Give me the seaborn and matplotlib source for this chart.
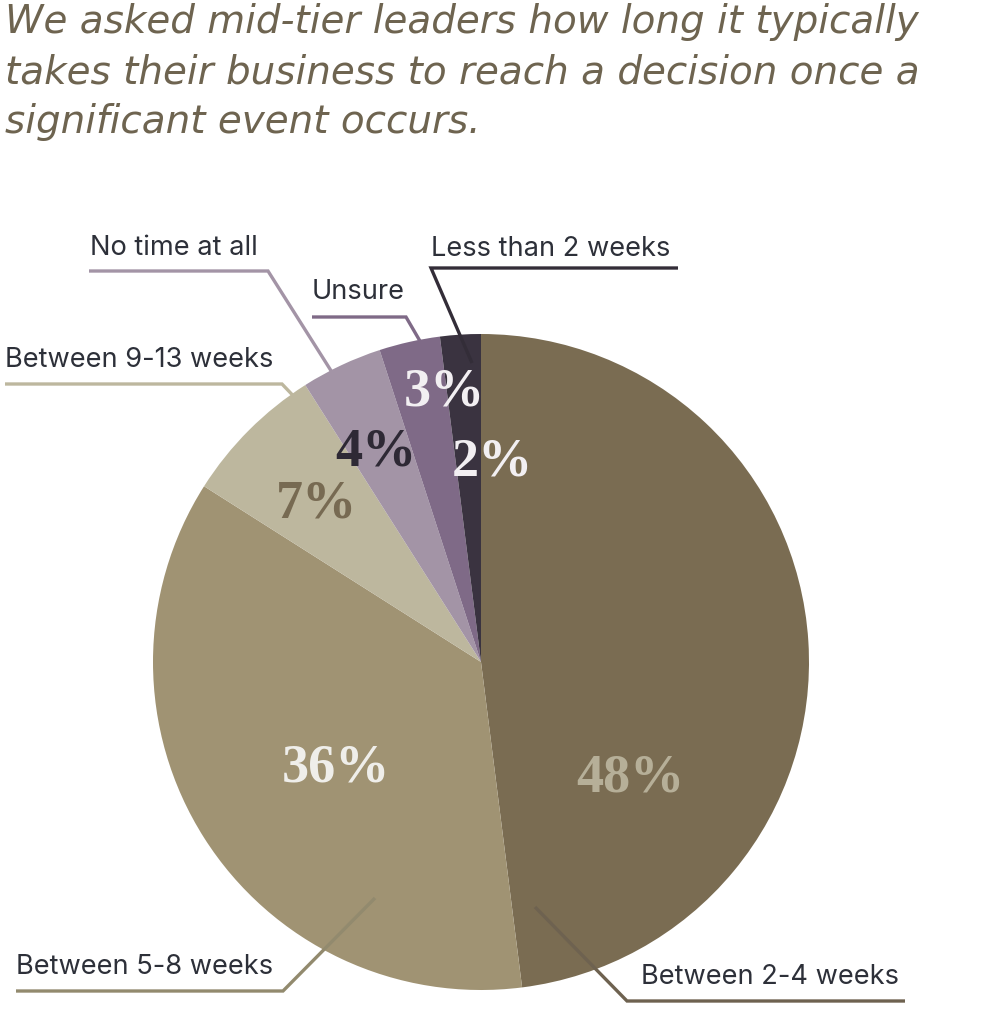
import numpy as np
import seaborn as sns
from matplotlib import pyplot as plt

# data
categories = ["Between 2-4 weeks", "Between 5-8 weeks", "Between 9-13 weeks",
              "No time at all", "Unsure", "Less than 2 weeks"]
shares = [48, 36, 7, 4, 3, 2]
pct_labels = ["48%", "36%", "7%", "4%", "3%", "2%"]
title_lines = ["We asked mid-tier leaders how long it typically",
               "takes their business to reach a decision once a",
               "significant event occurs."]

# styles
slice_colors = sns.color_palette(["#7a6c52", "#a09373", "#bdb79e",
                                  "#a394a6", "#7f6a87", "#3a3340"])
line_colors = ["#6e6250", "#928a6e", "#bdb79e", "#a394a6", "#7f6a87", "#332d38"]
pct_colors = ["#b6af98", "#efeeea", "#776a52", "#2e2935", "#f2eff2", "#f2eff2"]

W, H = 1005, 1036
CX, CY, R = 481, 662, 328

# label layout in pixel coordinates (top-left origin)
pct_pos = [(630, 778), (336, 769), (316, 505), (376, 452), (444, 393), (492, 462)]
# text x, text y (center), underline x0, x1, underline y, pointer end
callouts = [
    (641, 977, 627, 905, 1001, (535, 907), "left"),
    (16, 967, 16, 283, 991, (375, 898), "right"),
    (5, 360, 5, 282, 384, (325, 429), "right"),
    (90, 248, 89, 268, 271, (335, 377), "right"),
    (312, 292, 312, 406, 317, (431, 360), "right"),
    (431, 249, 431, 678, 268, (472, 363), "left"),
]


def py(y):
    return H - y


sns.set_theme(style="white")
plt.rcParams["font.family"] = ["Inter", "DejaVu Sans"]

fig = plt.figure(figsize=(W / 100, H / 100), dpi=100)
ax = fig.add_axes([0, 0, 1, 1])

ax.pie(shares, colors=slice_colors, startangle=90, counterclock=False,
       center=(CX, py(CY)), radius=R, wedgeprops=dict(linewidth=0))
ax.set_xlim(0, W)
ax.set_ylim(0, H)
ax.set_aspect("equal")
ax.axis("off")

for lab, (x, y), col in zip(pct_labels, pct_pos, pct_colors):
    ax.text(x, py(y), lab, ha="center", va="center", color=col,
            fontsize=39, fontweight="bold", family="Liberation Serif")

for name, (tx, ty, x0, x1, uy, end, corner), col in zip(categories, callouts, line_colors):
    ax.text(tx, py(ty), name, ha="left", va="center", color="#2d3039", fontsize=19.6)
    if corner == "left":
        xs = [end[0], x0, x1]
        ys = [py(end[1]), py(uy), py(uy)]
    else:
        xs = [x0, x1, end[0]]
        ys = [py(uy), py(uy), py(end[1])]
    ax.plot(xs, ys, color=col, lw=2.4, solid_capstyle="butt", solid_joinstyle="miter")

for i, line in enumerate(title_lines):
    ax.text(5, py(33 + 50 * i), line, ha="left", va="baseline", color="#6e6450",
            fontsize=28, style="italic", family=["DejaVu Sans"])

plt.savefig("out.png", dpi=100)
